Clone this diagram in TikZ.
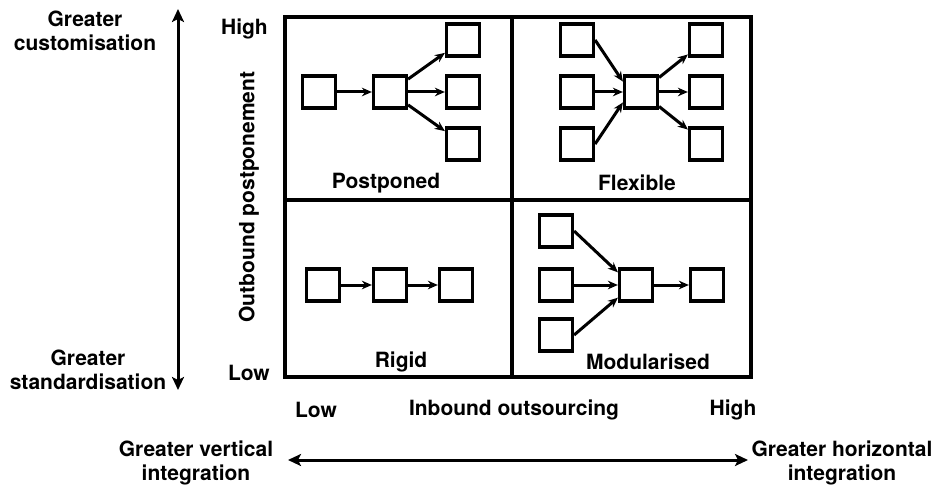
\documentclass[tikz,border=0pt]{standalone}
\usepackage{fontspec}
\setmainfont{TeX Gyre Heros}
\usetikzlibrary{
	arrows.meta,
	positioning
}

\begin{document}
\begin{tikzpicture}[x=1pt,y=-1pt,
		>={Stealth[length=10pt,width=8.5pt]},
		unit/.style={draw,line width=3.2pt,minimum width=33pt,minimum height=32pt,inner sep=0pt},
		flow/.style={->,line width=3pt},
		axis/.style={<->,line width=3pt,>={Stealth[length=13pt,width=12pt,inset=3pt]}},
		lab/.style={font=\bfseries\fontsize{21}{24}\selectfont,align=center,inner sep=0pt}]
	
	\useasboundingbox (0,0) rectangle (939,489);
	
	% Matrix frame
	\draw[line width=3.2pt] (285,17) rectangle (751,377);
	\draw[line width=3.2pt] (512,17) -- (512,377);
	\draw[line width=3.2pt] (285,200) -- (751,200);
	
	% Postponed
	\node[unit] (p1) at (319,92) {};
	\node[unit] (p2) at (390,92) {};
	\node[unit] (p3) at (463,40) {};
	\node[unit] (p4) at (463,92) {};
	\node[unit] (p5) at (463,144) {};
	\draw[flow] (p1) -- (p2);
	\draw[flow] (p2) -- (p3);
	\draw[flow] (p2) -- (p4);
	\draw[flow] (p2) -- (p5);
	\node[lab] (postponed) at (386,183) {Postponed};
	
	% Flexible
	\node[unit] (f1) at (577,40) {};
	\node[unit] (f2) at (577,92) {};
	\node[unit] (f3) at (577,144) {};
	\node[unit] (fc) at (641,92) {};
	\node[unit] (f4) at (706,40) {};
	\node[unit] (f5) at (706,92) {};
	\node[unit] (f6) at (706,144) {};
	\draw[flow] (f1.east) -- (fc.150);
	\draw[flow] (f2) -- (fc);
	\draw[flow] (f3.east) -- (fc.210);
	\draw[flow] (fc) -- (f4);
	\draw[flow] (fc) -- (f5);
	\draw[flow] (fc) -- (f6);
	\node[lab] (flexible) at (637,183) {Flexible};
	
	% Rigid
	\node[unit] (r1) at (323,285) {};
	\node[unit] (r2) at (390,285) {};
	\node[unit] (r3) at (456,285) {};
	\draw[flow] (r1) -- (r2);
	\draw[flow] (r2) -- (r3);
	\node[lab] (rigid) at (401,362) {Rigid};
	
	% Modularised
	\node[unit] (m1) at (556,231) {};
	\node[unit] (m2) at (556,285) {};
	\node[unit] (m3) at (556,335) {};
	\node[unit] (mc) at (636,285) {};
	\node[unit] (m4) at (707,285) {};
	\draw[flow] (m1.east) -- (mc.145);
	\draw[flow] (m2) -- (mc);
	\draw[flow] (m3.east) -- (mc.215);
	\draw[flow] (mc) -- (m4);
	\node[lab] (modular) at (648,362) {Modularised};
	
	% Outbound axis
	\node[lab,anchor=east] (yhigh) at (268,29) {High};
	\node[lab,anchor=east] (ylow) at (270,373) {Low};
	\node[lab,rotate=90] (ytitle) at (249,197) {Outbound postponement};
	\coordinate (vtop) at (178,9);
	\coordinate (vbot) at (178,390);
	\draw[axis] (vbot) -- (vtop);
	\node[lab] (custom) at (85,31) {Greater\\customisation};
	\node[lab] (standard) at (88,370) {Greater\\standardisation};
	
	% Inbound axis
	\node[lab] (xlow) at (316,410) {Low};
	\node[lab] (xtitle) at (514,410) {Inbound outsourcing};
	\node[lab] (xhigh) at (733,410) {High};
	\coordinate (hleft) at (288,460);
	\coordinate (hright) at (748,460);
	\draw[axis] (hleft) -- (hright);
	\node[lab] (vertical) at (196,463) {Greater vertical\\integration};
	\node[lab] (horizontal) at (842,463) {Greater horizontal\\integration};
	
\end{tikzpicture}
\end{document}
